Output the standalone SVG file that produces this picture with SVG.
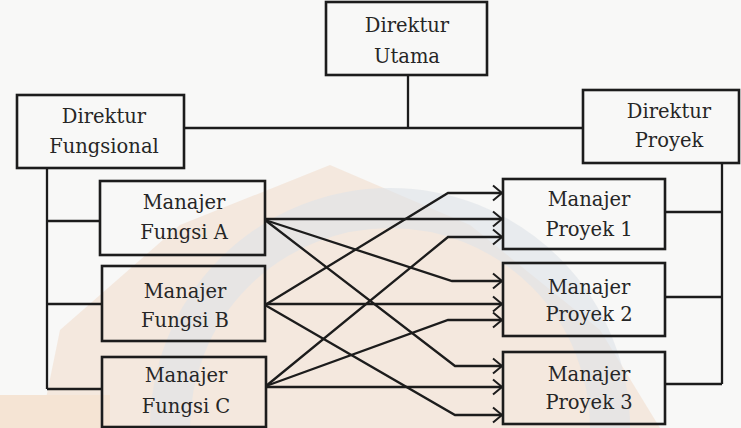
<svg xmlns="http://www.w3.org/2000/svg" width="741" height="428" viewBox="0 0 741 428">
<defs>
<style>
.box{fill:none;stroke:#1c1c1c;stroke-width:2.6}
.ln{fill:none;stroke:#1c1c1c;stroke-width:2.3}
.ar{fill:none;stroke:#1c1c1c;stroke-width:2.3;marker-end:url(#arr)}
text{font-family:"DejaVu Serif","Liberation Serif",serif;font-size:19.5px;fill:#262626;text-anchor:middle}
</style>
<marker id="arr" markerWidth="14" markerHeight="20" refX="11" refY="9" orient="auto" markerUnits="userSpaceOnUse">
<path d="M2,1.5 L11,9 L2,16.5" fill="none" stroke="#1c1c1c" stroke-width="2"/>
</marker>
</defs>
<rect width="741" height="428" fill="#f8f8f7"/>
<g id="watermark" opacity="0.7">
<polygon points="330,165 470,225 600,330 660,428 40,428 60,330 180,225" fill="#f3e2d4"/>
<path d="M170,428 A220,220 0 0 1 610,428" fill="none" stroke="#d3dbe2" stroke-width="40" opacity="0.6"/>
<rect x="0" y="395" width="110" height="33" fill="#f4dcc6"/>
</g>
<g id="connectors">
<path class="ln" d="M408,75 V128 M184,128 H583"/>
<path class="ln" d="M47,168 V389 M47,221 H100 M47,304 H102 M47,389 H102"/>
<path class="ln" d="M722,163 V384 M665,212 H722 M665,297 H722 M665,384 H722"/>
<path class="ar" d="M265,219 H502"/>
<path class="ar" d="M265,220 L452,281 H502"/>
<path class="ar" d="M265,220 L455,366 H502"/>
<path class="ar" d="M265,305 L448,193 H502"/>
<path class="ar" d="M265,304 H502"/>
<path class="ar" d="M265,305 L455,415 H502"/>
<path class="ar" d="M266,386 L448,237 H502"/>
<path class="ar" d="M266,386 L448,320 H502"/>
<path class="ar" d="M266,387 H502"/>
</g>
<g id="direktur-utama"><rect class="box" x="326" y="2" width="161" height="73"/><text x="407" y="32">Direktur</text><text x="407" y="63">Utama</text></g>
<g id="direktur-fungsional"><rect class="box" x="17" y="95" width="167" height="73"/><text x="104" y="123">Direktur</text><text x="104" y="153">Fungsional</text></g>
<g id="direktur-proyek"><rect class="box" x="583" y="90" width="156" height="73"/><text x="669" y="118">Direktur</text><text x="669" y="147">Proyek</text></g>
<g id="manajer-fungsi-a"><rect class="box" x="100" y="181" width="165" height="74"/><text x="184" y="209">Manajer</text><text x="184" y="239">Fungsi A</text></g>
<g id="manajer-fungsi-b"><rect class="box" x="102" y="266" width="163" height="75"/><text x="185" y="298">Manajer</text><text x="185" y="327">Fungsi B</text></g>
<g id="manajer-fungsi-c"><rect class="box" x="102" y="357" width="164" height="70"/><text x="186" y="382">Manajer</text><text x="186" y="413">Fungsi C</text></g>
<g id="manajer-proyek-1"><rect class="box" x="503" y="179" width="162" height="70"/><text x="589" y="206">Manajer</text><text x="589" y="236">Proyek 1</text></g>
<g id="manajer-proyek-2"><rect class="box" x="503" y="263" width="162" height="73"/><text x="589" y="294">Manajer</text><text x="589" y="321">Proyek 2</text></g>
<g id="manajer-proyek-3"><rect class="box" x="503" y="352" width="162" height="72"/><text x="589" y="381">Manajer</text><text x="589" y="409">Proyek 3</text></g>
</svg>
